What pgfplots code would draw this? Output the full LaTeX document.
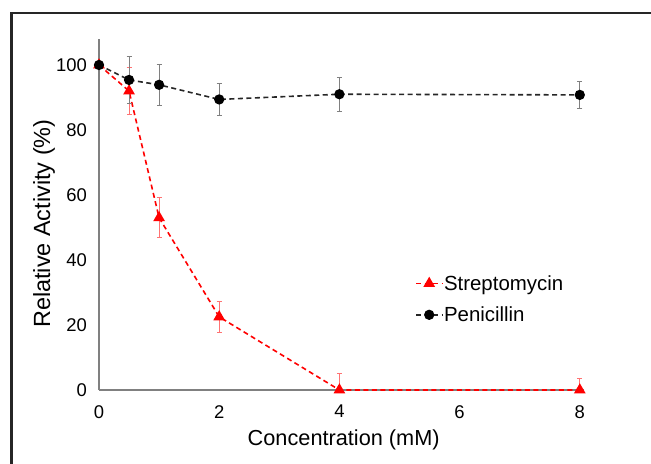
\documentclass[border=0pt]{standalone}
\usepackage{fontspec}
\setmainfont{Liberation Sans}
\usepackage{pgfplots}
\pgfplotsset{compat=1.18}

\begin{document}
\begin{tikzpicture}[x=1bp,y=1bp]
\useasboundingbox (-99,-74) rectangle (552,390);
\begin{axis}[
    at={(0,0)}, anchor=south west,
    scale only axis,
    width=485bp, height=351bp,
    xmin=0, xmax=8.07,
    ymin=0, ymax=108,
    clip=false,
    axis x line*=bottom,
    axis y line*=left,
    axis line style={-, draw=gray, line width=1.2bp},
    major tick length=0pt,
    xtick={0,2,4,6,8},
    ytick={0,20,40,60,80,100},
    /pgf/number format/assume math mode=true,
    ticklabel style={font=\fontsize{18.5}{20}\selectfont, inner sep=0pt},
    yticklabel style={anchor=east, xshift=-12bp},
    xticklabel style={anchor=north, yshift=-15bp},
    xlabel={Concentration (mM)},
    xlabel style={font=\fontsize{21.8}{24}\selectfont, at={(axis description cs:0.5045,-0.1595)}, anchor=base},
    ylabel={Relative Activity (\%)},
    ylabel style={font=\fontsize{23.5}{26}\selectfont, at={(axis description cs:-0.101,0.474)}, anchor=base},
    legend style={at={(axis description cs:0.652,0.330)}, anchor=north west,
        draw=none, fill=none, inner sep=0pt, row sep=13bp,
        font=\fontsize{20.5}{22}\selectfont, nodes={inner sep=1bp}},
    legend cell align=left,
    legend image code/.code={
        \draw[mark repeat=2,mark phase=2,#1] plot coordinates {(0bp,0bp) (13bp,0bp) (26bp,0bp)};
    },
]
% Streptomycin
\addplot[red, line width=1.6bp, dash pattern=on 5bp off 3.5bp,
    mark=triangle*, mark size=5.2bp, mark options={solid, fill=red},
    error bars/.cd, y dir=both, y explicit,
    error bar style={solid, red!55, line width=1bp},
    error mark options={rotate=90, mark size=2.5bp, red!55, line width=0.8bp}]
coordinates {
    (0,100) +- (0,0)
    (0.5,92) +- (0,7.2)
    (1,53) +- (0,6.2)
    (2,22.5) +- (0,4.8)
    (4,0) += (0,5) -= (0,0)
    (8,0) += (0,3.7) -= (0,0)
};
\addlegendentry{Streptomycin}
% Penicillin
\addplot[black!85, line width=1.6bp, dash pattern=on 5bp off 3.5bp,
    mark=*, mark size=4.3bp, mark options={solid, fill=black, draw=black},
    error bars/.cd, y dir=both, y explicit,
    error bar style={solid, gray, line width=1bp},
    error mark options={rotate=90, mark size=2.5bp, gray, line width=0.8bp}]
coordinates {
    (0,100) +- (0,0)
    (0.5,95.4) +- (0,7.3)
    (1,93.9) +- (0,6.3)
    (2,89.4) +- (0,4.9)
    (4,91) +- (0,5.3)
    (8,90.8) +- (0,4.1)
};
\addlegendentry{Penicillin}
\end{axis}
\draw[line width=2.5bp, black!85] (-87.7,-90) -- (-87.7,377) -- (570,377);
\end{tikzpicture}
\end{document}
